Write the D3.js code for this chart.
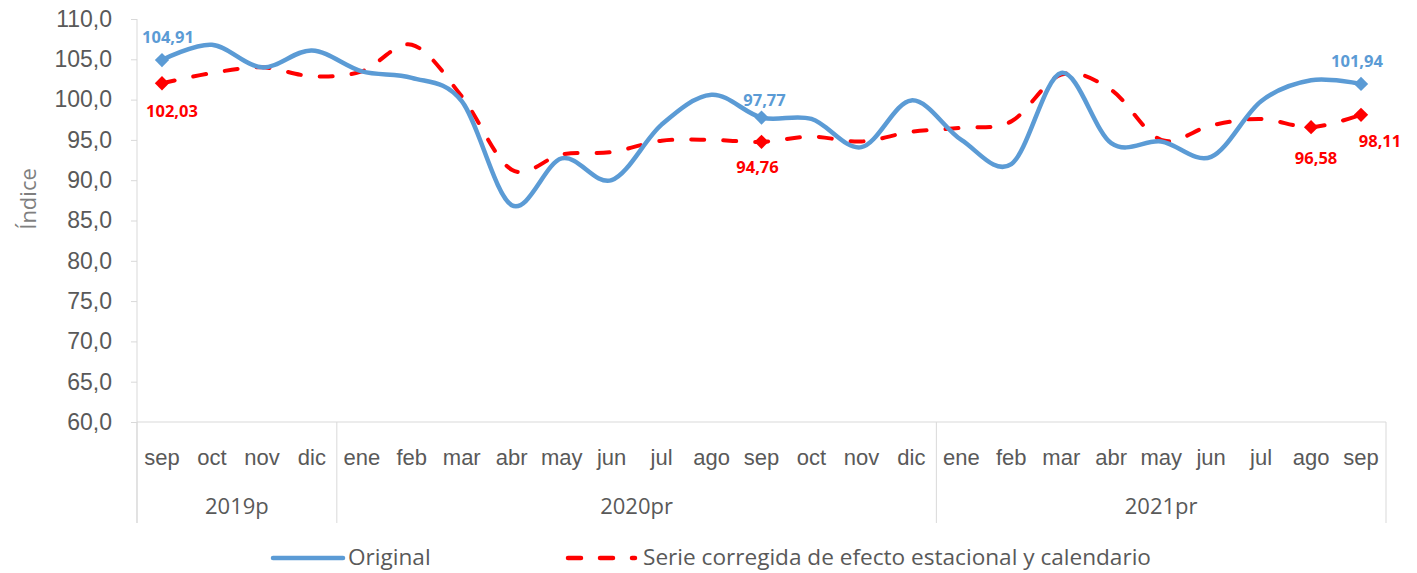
<!DOCTYPE html>
<html>
<head>
<meta charset="utf-8">
<script src="https://cdn.jsdelivr.net/npm/d3@7"></script>
<style>
  body { margin: 0; background: #fff; }
  svg { display: block; font-family: "Segoe UI", "Open Sans", "Noto Sans", sans-serif; }
  .axis text { fill: #595959; }
  .axis path, .axis line { stroke: #d9d9d9; }
</style>
</head>
<body>
<div id="chart"></div>
<script>
// months shown on the x axis, Sep 2019 to Sep 2021
const months = ["sep","oct","nov","dic",
  "ene","feb","mar","abr","may","jun","jul","ago","sep","oct","nov","dic",
  "ene","feb","mar","abr","may","jun","jul","ago","sep"]
const years = ["2019p", "2020pr", "2021pr"]
const yearSpans = [4, 12, 9]

const original = [104.91, 106.8, 104.0, 106.1, 103.5, 102.7, 99.8, 86.9, 92.7, 90.0, 96.9, 100.6, 97.77,
  97.6, 94.1, 99.9, 95.0, 92.0, 103.3, 94.6, 94.8, 92.9, 99.8, 102.4, 101.94]
const corregida = [102.03, 103.3, 104.0, 102.9, 103.5, 106.8, 100.4, 91.3, 93.2, 93.5, 94.9, 95.0, 94.76,
  95.4, 94.8, 96.0, 96.5, 97.3, 103.1, 101.2, 95.0, 96.8, 97.6, 96.58, 98.11]

const yTicks = [60, 65, 70, 75, 80, 85, 90, 95, 100, 105, 110]

// which points carry a marker + value label
const originalMarked = [0, 12, 24]
const corregidaMarked = [0, 12, 23, 24]

const W = 1417, H = 573
const M = { left: 137, right: 1386, top: 19, bottom: 422 }

const BLUE = "#5b9bd5", RED = "#ff0000"
const FONT = "22px"

const svg = d3.select("#chart").append("svg")
  .attr("width", W).attr("height", H)

const x = d3.scaleBand().domain(d3.range(months.length)).range([M.left, M.right])
const cx = i => x(i) + x.bandwidth() / 2
const y = d3.scaleLinear().domain([60, 110]).range([M.bottom, M.top])

const locale = d3.formatLocale({ decimal: ",", thousands: ".", grouping: [3], currency: ["", ""] })
const f1 = locale.format(".1f")
const f2 = locale.format(".2f")

/* Y AXIS */
const yAxis = svg.append("g")
  .attr("class", "axis")
  .attr("transform", `translate(${M.left},0)`)
  .call(d3.axisLeft(y).tickValues(yTicks).tickSize(6).tickPadding(19).tickFormat(f1))
yAxis.select(".domain").attr("d", `M0,${M.top}V${M.bottom + 101}`)
yAxis.selectAll("text").style("font-size", "23px")

// baseline
svg.append("line")
  .attr("x1", M.left).attr("x2", M.right)
  .attr("y1", M.bottom).attr("y2", M.bottom)
  .style("stroke", "#d9d9d9")

svg.append("text")
  .attr("transform", "translate(36,199) rotate(-90)")
  .attr("text-anchor", "middle")
  .style("font-size", FONT)
  .style("fill", "#7f7f7f")
  .text("Índice")

/* X AXIS: months + year groups */
const xAxis = svg.append("g")
  .attr("class", "axis")
  .attr("transform", `translate(0,${M.bottom})`)
  .call(d3.axisBottom(x).tickSize(0).tickPadding(27).tickFormat(i => months[i]))
xAxis.select(".domain").remove()
xAxis.selectAll("text").style("font-size", FONT)

let start = 0
const bounds = [0]
years.forEach((yr, k) => {
  const a = x(start)
  const b = x(start + yearSpans[k] - 1) + x.bandwidth()
  svg.append("text")
    .attr("x", (a + b) / 2).attr("y", 514)
    .attr("text-anchor", "middle")
    .style("font-size", FONT)
    .style("fill", "#595959")
    .text(yr)
  start += yearSpans[k]
  bounds.push(start)
})
bounds.forEach(i => {
  const xx = i < months.length ? x(i) : M.right
  svg.append("line")
    .attr("x1", xx).attr("x2", xx)
    .attr("y1", M.bottom).attr("y2", M.bottom + 101)
    .style("stroke", "#d9d9d9")
})

/* LINES */
const line = d3.line()
  .x((d, i) => cx(i))
  .y(d => y(d))
  .curve(d3.curveCardinal.tension(0))

svg.append("path")
  .datum(corregida)
  .attr("d", line)
  .style("fill", "none")
  .style("stroke", RED)
  .style("stroke-width", 4)
  .style("stroke-linecap", "round")
  .style("stroke-dasharray", "13,19")

svg.append("path")
  .datum(original)
  .attr("d", line)
  .style("fill", "none")
  .style("stroke", BLUE)
  .style("stroke-width", 4.5)
  .style("stroke-linecap", "round")

const diamond = d3.symbol().type(d3.symbolDiamond2).size(130)

function markers(values, idx, color, labelPos) {
  svg.selectAll(null)
    .data(idx)
    .enter().append("path")
    .attr("d", diamond)
    .attr("transform", i => `translate(${cx(i)},${y(values[i])})`)
    .style("fill", color)

  svg.selectAll(null)
    .data(idx)
    .enter().append("text")
    .attr("x", i => cx(i) + labelPos[i][0])
    .attr("y", i => y(values[i]) + labelPos[i][1])
    .attr("text-anchor", "middle")
    .style("font-size", "16.5px")
    .style("font-weight", "bold")
    .style("fill", color)
    .text(i => f2(values[i]))
}

markers(original, originalMarked, BLUE, { 0: [6, -17], 12: [3, -12], 24: [-4, -17] })
markers(corregida, corregidaMarked, RED, { 0: [10, 34], 12: [-4, 31], 23: [5, 37], 24: [19, 32] })

/* LEGEND */
const legend = svg.append("g").attr("transform", "translate(0,558)")
legend.append("line")
  .attr("x1", 273).attr("x2", 343)
  .style("stroke", BLUE).style("stroke-width", 4.5).style("stroke-linecap", "round")
legend.append("text")
  .attr("x", 348).attr("y", 7)
  .style("font-size", "22.6px").style("fill", "#595959")
  .text("Original")
legend.append("line")
  .attr("x1", 568).attr("x2", 635)
  .style("stroke", RED).style("stroke-width", 4.5).style("stroke-linecap", "round")
  .style("stroke-dasharray", "13,19")
legend.append("text")
  .attr("x", 643).attr("y", 7)
  .style("font-size", "22.6px").style("fill", "#595959")
  .text("Serie corregida de efecto estacional y calendario")
</script>
</body>
</html>
